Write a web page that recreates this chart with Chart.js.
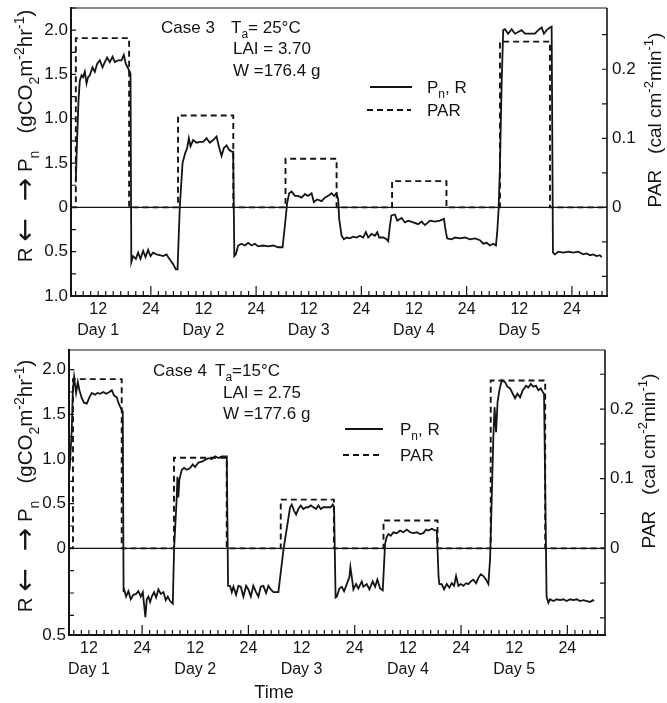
<!DOCTYPE html>
<html>
<head>
<meta charset="utf-8">
<title>Case 3 / Case 4 - Pn, R and PAR</title>
<script src="https://cdn.jsdelivr.net/npm/chart.js@4.4.0/dist/chart.umd.min.js"></script>
<style>
  body { margin: 0; background: #fff; }
  canvas { position: absolute; left: 0; }
</style>
</head>
<body>
<canvas id="case3" width="667" height="340" style="top:0"></canvas>
<canvas id="case4" width="667" height="363" style="top:340px"></canvas>
<script>
const INK = "#141414";
const FONT = "Liberation Sans, DejaVu Sans, sans-serif";
// PAR (cal cm-2 min-1) per unit of Pn (gCO2 m-2 hr-1) on the two y axes
const PAR_PER_RATE = 0.1283;

// time axis, hours from the start of day 1
const timeTickHours = [12, 24, 36, 48, 60, 72, 84, 96, 108, 120];
const timeTickLabels = [["12", "Day 1"], "24", ["12", "Day 2"], "24", ["12", "Day 3"], "24", ["12", "Day 4"], "24", ["12", "Day 5"], "24"];
const parTicks = [0, 0.1, 0.2];
const parTickLabels = ["0", "0.1", "0.2"];

// ---- Case 3 (Ta = 25 C) ----
const case3RateTicks = [2, 1.5, 1, 0.5, 0, -0.5, -1];
const case3RateLabels = ["2.0", "1.5", "1.0", "1.5", "0", "0.5", "1.0"];
const case3Hours = [
  6.9, 7.19, 7.51, 7.81, 8.2, 8.56, 8.95, 9.34, 9.7, 10.09, 10.7, 11.23, 11.75, 12.37, 12.98, 13.51, 14.03, 14.65, 15.27, 15.79,
  16.54, 17.32, 17.84, 18.3, 18.82, 19.37, 19.55, 19.96, 20.58, 21.1, 21.65, 22.24, 22.79, 23.38, 23.93, 24.52, 25.3, 26.05, 26.8, 27.58,
  27.95, 28.49, 29.09, 29.7, 30.09, 30.39, 30.61, 31.23, 31.82, 32.28, 32.67, 33.05, 33.65, 34.42, 35.17, 35.93, 36.7, 37.45, 38.21, 38.98,
  39.51, 40.12, 40.65, 41.26, 41.86, 42.4, 42.77, 43.04, 43.38, 43.91, 44.68, 45.44, 46.19, 46.96, 47.72, 48.47, 49.61, 50.75, 51.89, 53.03,
  54.03, 54.56, 55.08, 55.54, 56.09, 56.84, 57.59, 58.37, 59.12, 59.87, 60.65, 61.17, 61.93, 62.93, 63.68, 64.43, 65.21, 65.73, 66.35, 66.71,
  66.94, 67.49, 68.01, 68.63, 69.38, 70.13, 70.91, 71.66, 72.41, 73.03, 73.56, 74.33, 75.08, 75.61, 76.06, 76.98, 77.75, 78.12, 78.5, 78.85,
  79.64, 80.17, 81.17, 81.92, 82.68, 83.82, 84.96, 85.73, 86.49, 87.63, 88.77, 89.91, 90.82, 91.27, 91.57, 92.57, 93.33, 94.47, 95.61, 96.75,
  97.89, 99.03, 99.78, 100.56, 101.31, 102.06, 102.68, 102.97, 103.29, 103.59, 103.98, 104.34, 104.73, 105.48, 106.26, 107.01, 107.76, 108.54, 109.29, 110.43,
  111.57, 112.32, 113.1, 113.62, 114.24, 114.99, 115.38, 115.68, 116.13, 116.88, 118.02, 119.16, 120.3, 121.44, 122.58, 123.36, 124.11, 124.86, 125.64, 126.39,
  126.78
];
const case3Pn = [
  0.31, 0.76, 1.21, 1.43, 1.49, 1.47, 1.53, 1.40, 1.47, 1.49, 1.58, 1.53, 1.62, 1.66, 1.58, 1.64, 1.69, 1.64, 1.70, 1.64,
  1.66, 1.66, 1.72, 1.62, 1.57, 1.51, -0.62, -0.55, -0.58, -0.51, -0.58, -0.49, -0.56, -0.48, -0.55, -0.51, -0.53, -0.54, -0.55, -0.53,
  -0.56, -0.60, -0.64, -0.70, -0.70, -0.28, 0.01, 0.50, 0.61, 0.67, 0.78, 0.69, 0.76, 0.73, 0.74, 0.74, 0.78, 0.73, 0.76, 0.80,
  0.69, 0.58, 0.67, 0.70, 0.65, 0.63, 0.63, -0.55, -0.53, -0.43, -0.41, -0.43, -0.40, -0.43, -0.41, -0.44, -0.43, -0.44, -0.43, -0.45,
  -0.45, -0.21, 0.05, 0.16, 0.18, 0.13, 0.13, 0.11, 0.15, 0.13, 0.16, 0.06, 0.09, 0.07, 0.11, 0.13, 0.16, 0.13, 0.16, 0.09,
  -0.13, -0.32, -0.36, -0.34, -0.35, -0.33, -0.34, -0.32, -0.34, -0.28, -0.34, -0.30, -0.32, -0.28, -0.34, -0.34, -0.36, -0.38, -0.21, -0.09,
  -0.08, -0.15, -0.12, -0.17, -0.15, -0.17, -0.19, -0.16, -0.20, -0.15, -0.16, -0.15, -0.13, -0.28, -0.35, -0.36, -0.34, -0.35, -0.34, -0.36,
  -0.35, -0.37, -0.41, -0.40, -0.43, -0.41, -0.43, -0.28, -0.02, 0.46, 1.40, 2.00, 2.01, 1.96, 2.01, 1.96, 1.98, 2.00, 1.96, 1.96,
  1.96, 2.00, 2.03, 1.96, 2.00, 2.03, 2.04, -0.51, -0.53, -0.50, -0.51, -0.50, -0.51, -0.50, -0.53, -0.52, -0.54, -0.53, -0.55, -0.54,
  -0.56
];
const case3ParOn = [6.9, 30.2, 54.7, 79.0, 103.6];
const case3ParOff = [19.05, 42.8, 66.35, 91.4, 115.0];
const case3Par = [0.245, 0.133, 0.0705, 0.038, 0.24];

// ---- Case 4 (Ta = 15 C) ----
const case4RateTicks = [2, 1.5, 1, 0.5, 0, -0.97];
const case4RateLabels = ["2.0", "1.5", "1.0", "0.5", "0", "0.5"];
const case4Hours = [
  7.63, 8.13, 8.36, 8.65, 9.1, 9.49, 9.85, 10.39, 10.91, 11.52, 12.1, 12.65, 13.39, 13.91, 14.52, 15.26, 15.87, 16.62, 17.16, 17.68,
  18.29, 18.65, 19.19, 19.64, 19.82, 19.94, 20.39, 20.91, 21.45, 22.04, 22.65, 23.16, 23.71, 24.16, 24.74, 25.06, 25.42, 25.81, 26.19, 26.71,
  27.16, 27.68, 28.22, 28.81, 29.35, 29.8, 30.32, 30.93, 31.22, 31.45, 31.83, 31.97, 32.19, 32.42, 32.96, 33.48, 34.09, 34.84, 35.44, 35.96,
  36.71, 37.48, 38.22, 38.97, 39.73, 40.48, 41.22, 41.99, 42.74, 43.12, 43.41, 43.86, 44.25, 44.61, 45.22, 45.74, 46.28, 46.87, 47.48, 47.99,
  48.54, 49.12, 49.73, 50.25, 50.79, 51.38, 51.99, 52.51, 53.05, 53.64, 54.77, 55.9, 57.41, 57.79, 58.31, 58.76, 59.28, 59.82, 60.41, 61.02,
  61.54, 62.08, 62.67, 63.28, 63.8, 64.34, 64.93, 65.53, 66.05, 66.6, 67.05, 67.34, 67.68, 67.95, 68.54, 69.08, 69.6, 70.21, 70.8, 71.02,
  71.34, 71.7, 72.3, 72.82, 73.59, 73.95, 74.72, 75.31, 76.07, 76.6, 77.11, 77.72, 78.33, 78.85, 79.24, 79.6, 80.14, 80.73, 81.49, 82.24,
  82.98, 83.75, 84.5, 85.24, 86.01, 86.75, 87.5, 88.11, 88.63, 89.4, 90.14, 90.53, 90.93, 91.11, 91.65, 92.17, 92.78, 93.37, 93.91, 94.43,
  94.88, 95.4, 95.94, 96.53, 97.14, 97.66, 98.2, 98.79, 99.4, 99.91, 100.46, 101.04, 101.65, 102.17, 102.56, 102.94, 103.3, 103.57, 103.91, 104.25,
  104.7, 105.2, 105.94, 106.46, 107.07, 107.68, 108.2, 108.72, 109.33, 109.94, 110.68, 111.2, 111.74, 112.33, 112.94, 113.46, 114.0, 114.45, 114.74, 115.31,
  115.72, 116.1, 116.85, 117.61, 118.36, 119.1, 119.87, 120.61, 121.36, 122.13, 122.87, 123.62, 124.38, 125.13, 125.74, 126.03
];
const case4Pn = [
  0.87, 1.33, 1.77, 1.92, 1.74, 1.86, 1.77, 1.68, 1.63, 1.62, 1.69, 1.74, 1.72, 1.74, 1.73, 1.75, 1.73, 1.75, 1.77, 1.71,
  1.69, 1.63, 1.57, 1.53, -0.49, -0.46, -0.54, -0.48, -0.57, -0.52, -0.51, -0.48, -0.54, -0.49, -0.77, -0.57, -0.54, -0.60, -0.54, -0.49,
  -0.55, -0.46, -0.51, -0.49, -0.58, -0.54, -0.59, -0.62, -0.01, 0.21, 0.58, 0.80, 0.57, 0.77, 0.88, 0.90, 0.88, 0.90, 0.94, 0.91,
  0.96, 0.97, 0.99, 1.01, 1.00, 1.03, 1.01, 1.03, 1.03, 1.03, -0.42, -0.42, -0.49, -0.43, -0.52, -0.42, -0.43, -0.54, -0.42, -0.46,
  -0.54, -0.42, -0.49, -0.54, -0.43, -0.42, -0.50, -0.42, -0.46, -0.49, -0.49, -0.02, 0.46, 0.49, 0.42, 0.38, 0.44, 0.48, 0.44, 0.46,
  0.46, 0.48, 0.46, 0.44, 0.48, 0.44, 0.46, 0.46, 0.46, 0.46, 0.49, 0.46, -0.55, -0.54, -0.45, -0.43, -0.48, -0.40, -0.32, -0.21,
  -0.32, -0.46, -0.40, -0.45, -0.37, -0.43, -0.40, -0.46, -0.37, -0.43, -0.35, -0.45, -0.47, 0.05, 0.13, 0.16, 0.14, 0.18, 0.17, 0.20,
  0.18, 0.21, 0.18, 0.17, 0.18, 0.16, 0.17, 0.21, 0.20, 0.22, 0.20, 0.20, -0.32, -0.40, -0.40, -0.46, -0.40, -0.44, -0.39, -0.42,
  -0.31, -0.42, -0.40, -0.42, -0.39, -0.40, -0.37, -0.35, -0.39, -0.33, -0.29, -0.31, -0.35, -0.40, -0.12, 0.58, 1.25, 1.58, 1.30, 1.64,
  1.78, 1.88, 1.86, 1.81, 1.79, 1.73, 1.68, 1.73, 1.69, 1.77, 1.82, 1.80, 1.84, 1.81, 1.82, 1.77, 1.79, 1.75, 1.73, -0.54,
  -0.61, -0.57, -0.59, -0.57, -0.58, -0.57, -0.59, -0.57, -0.58, -0.57, -0.59, -0.58, -0.59, -0.60, -0.58, -0.59
];
const case4ParOn = [8.4, 31.2, 55.3, 78.5, 102.7];
const case4ParOff = [19.4, 43.1, 67.3, 90.7, 115.0];
const case4Par = [0.243, 0.13, 0.07, 0.04, 0.241];

// axis titles and legend text, as [text, 'sub' | 'sup' | 'arrow'] runs
const rateTitle = [["R "], ["←", "arrow"], ["   "], ["→", "arrow"], [" P"], ["n", "sub"], ["   (gCO"], ["2", "sub"], ["m"], ["-2", "sup"], ["hr"], ["-1", "sup"], [")"]];
const parTitle = [["PAR   (cal cm"], ["-2", "sup"], ["min"], ["-1", "sup"], [")"]];
const pnLegend = [["P"], ["n", "sub"], [", R"]];

function fontFor(size, kind) {
  if (kind === "arrow") return Math.round(size * 1.35) + "px 'DejaVu Sans'";
  return (kind ? Math.round(size * 0.68) : size) + "px " + FONT;
}

// draws a run of normal / subscript / superscript text starting at x (baseline y)
function drawRich(ctx, parts, x, y, size, align) {
  const widths = parts.map(([t, k]) => {
    ctx.font = fontFor(size, k);
    return ctx.measureText(t).width;
  });
  const total = widths.reduce((s, w) => s + w, 0);
  let cx = align === "center" ? x - total / 2 : x;
  ctx.textAlign = "left";
  ctx.textBaseline = "alphabetic";
  parts.forEach(([t, k], i) => {
    ctx.font = fontFor(size, k);
    let dy = 0;
    if (k === "sub") dy = size * 0.3;
    if (k === "sup") dy = -size * 0.42;
    if (k === "arrow") dy = size * 0.08;
    ctx.fillText(t, cx, y + dy);
    cx += widths[i];
  });
}

function drawVertical(ctx, parts, cx, cy, size) {
  ctx.save();
  ctx.translate(cx, cy);
  ctx.rotate(-Math.PI / 2);
  drawRich(ctx, parts, 0, size * 0.36, size, "center");
  ctx.restore();
}

function buildPar(on, off, level, xMin, xMax) {
  const pts = [{ x: xMin, y: 0 }];
  on.forEach((t, i) => {
    pts.push({ x: t, y: level[i] }, { x: off[i], y: 0 });
  });
  pts.push({ x: xMax, y: 0 });
  return pts;
}

// frame, zero line and inward tick marks
const framePlugin = {
  id: "frame",
  beforeDatasetsDraw(chart) {
    const { ctx, chartArea: a, scales } = chart;
    const y0 = scales.y.getPixelForValue(0);
    ctx.save();
    ctx.strokeStyle = INK;
    ctx.lineWidth = 1.1;
    ctx.beginPath();
    ctx.moveTo(a.left, y0);
    ctx.lineTo(a.right, y0);
    ctx.stroke();
    ctx.restore();
  },
  afterDatasetsDraw(chart) {
    const { ctx, chartArea: a, scales: { x, y, y1 } } = chart;
    ctx.save();
    ctx.strokeStyle = INK;
    const edge = (x1, y1_, x2, y2, w) => {
      ctx.lineWidth = w;
      ctx.beginPath();
      ctx.moveTo(x1, y1_);
      ctx.lineTo(x2, y2);
      ctx.stroke();
    };
    edge(a.left, a.top, a.right, a.top, 1.2);
    edge(a.left, a.top - 1, a.left, a.bottom + 1, 2);
    edge(a.left - 1, a.bottom, a.right + 1, a.bottom, 2);
    edge(a.right, a.top, a.right, a.bottom + 1, 1.6);

    ctx.lineWidth = 1.2;
    ctx.beginPath();
    // 14 marks per day along the time axis, a long one at each midnight
    const step = 24 / 14;
    for (let i = Math.ceil(x.min / step); i * step <= x.max; i++) {
      const px = x.getPixelForValue(i * step);
      ctx.moveTo(px, a.bottom);
      ctx.lineTo(px, a.bottom - (i % 14 === 0 ? 10 : 5));
    }
    for (let i = Math.ceil(y.min * 4); i / 4 <= y.max; i++) {
      const py = y.getPixelForValue(i / 4);
      ctx.moveTo(a.left, py);
      ctx.lineTo(a.left + 5, py);
    }
    for (let i = Math.ceil(y1.min * 20); i / 20 <= y1.max; i++) {
      const py = y1.getPixelForValue(i / 20);
      ctx.moveTo(a.right, py);
      ctx.lineTo(a.right - 5, py);
    }
    ctx.stroke();
    ctx.restore();
  }
};

// case notes, legend and rotated axis titles
const textPlugin = {
  id: "panelText",
  afterDraw(chart) {
    const o = chart.options.plugins.panelText;
    const { ctx } = chart;
    const ds = chart.data.datasets;
    ctx.save();
    ctx.fillStyle = INK;
    o.notes.forEach((n) => drawRich(ctx, n.parts, n.x, n.y + 6, 17, "left"));

    [o.legend.pn, o.legend.par].forEach((item, i) => {
      ctx.save();
      ctx.strokeStyle = ds[i].borderColor;
      ctx.lineWidth = ds[i].borderWidth;
      ctx.setLineDash(ds[i].borderDash || []);
      ctx.beginPath();
      ctx.moveTo(item.x1, item.y);
      ctx.lineTo(item.x2, item.y);
      ctx.stroke();
      ctx.restore();
      drawRich(ctx, i === 0 ? pnLegend : [["PAR"]], o.legend.textX, item.y + 6, 17, "left");
    });

    drawVertical(ctx, rateTitle, o.rateTitle.x, o.rateTitle.y, 20.5);
    drawVertical(ctx, parTitle, o.parTitle.x, o.parTitle.y, 19);
    if (o.timeTitle) {
      drawRich(ctx, [["Time"]], o.timeTitle.x, o.timeTitle.y + 6, 18, "center");
    }
    ctx.restore();
  }
};

// fixed axis sizes so both panels keep the same plot box
function fixBox(size) {
  return (s) => {
    Object.assign(s, size);
    s.paddingTop = 0;
    s.paddingBottom = 0;
    s.paddingLeft = 0;
    s.paddingRight = 0;
  };
}

function makePanel(id, p) {
  const pnPoints = p.hours.map((h, i) => ({ x: h, y: p.pn[i] }));
  const parPoints = buildPar(p.parOn, p.parOff, p.par, p.xMin, p.xMax);
  return new Chart(document.getElementById(id), {
    type: "line",
    data: {
      datasets: [
        { label: "Pn, R", data: pnPoints, yAxisID: "y", borderColor: INK, borderWidth: 1.8, pointRadius: 0 },
        { label: "PAR", data: parPoints, yAxisID: "y1", borderColor: INK, borderWidth: 1.9, borderDash: [6, 4], stepped: true, pointRadius: 0 }
      ]
    },
    options: {
      responsive: false,
      animation: false,
      devicePixelRatio: 1,
      font: { family: FONT },
      layout: { padding: { top: p.padTop, left: 0, right: 0, bottom: 0 } },
      plugins: {
        legend: { display: false },
        tooltip: { enabled: false },
        panelText: p.text
      },
      scales: {
        x: {
          type: "linear",
          min: p.xMin,
          max: p.xMax,
          grid: { display: false, drawTicks: false },
          border: { display: false },
          afterBuildTicks: (s) => { s.ticks = timeTickHours.map((v) => ({ value: v })); },
          afterFit: fixBox({ height: p.xHeight }),
          ticks: {
            autoSkip: false, maxRotation: 0, minRotation: 0, padding: 3, color: INK,
            font: { family: FONT, size: 16, lineHeight: 1.3 },
            callback: (v, i) => timeTickLabels[i]
          }
        },
        y: {
          position: "left",
          min: p.yMin,
          max: p.yMax,
          grid: { display: false, drawTicks: false },
          border: { display: false },
          afterBuildTicks: (s) => { s.ticks = p.rateTicks.map((v) => ({ value: v })); },
          afterFit: fixBox({ width: p.leftWidth }),
          ticks: {
            padding: 3, color: INK, font: { family: FONT, size: 17 },
            callback: (v, i) => p.rateLabels[i]
          }
        },
        y1: {
          position: "right",
          min: p.yMin * PAR_PER_RATE,
          max: p.yMax * PAR_PER_RATE,
          grid: { display: false, drawTicks: false },
          border: { display: false },
          afterBuildTicks: (s) => { s.ticks = parTicks.map((v) => ({ value: v })); },
          afterFit: fixBox({ width: p.rightWidth }),
          ticks: {
            padding: 5, color: INK, font: { family: FONT, size: 17 },
            callback: (v, i) => parTickLabels[i]
          }
        }
      }
    },
    plugins: [framePlugin, textPlugin]
  });
}

makePanel("case3", {
  hours: case3Hours, pn: case3Pn,
  parOn: case3ParOn, parOff: case3ParOff, par: case3Par,
  rateTicks: case3RateTicks, rateLabels: case3RateLabels,
  xMin: 5.8, xMax: 128, yMin: -1, yMax: 2.25,
  padTop: 8, xHeight: 44, leftWidth: 71, rightWidth: 60,
  text: {
    notes: [
      { x: 161, y: 27, parts: [["Case 3"]] },
      { x: 231, y: 27, parts: [["T"], ["a", "sub"], ["= 25°C"]] },
      { x: 233, y: 48, parts: [["LAI = 3.70"]] },
      { x: 233, y: 70, parts: [["W =176.4 g"]] }
    ],
    legend: { pn: { x1: 370, x2: 412, y: 87 }, par: { x1: 367, x2: 411, y: 110 }, textX: 427 },
    rateTitle: { x: 25, y: 136 },
    parTitle: { x: 654, y: 120 }
  }
});

makePanel("case4", {
  hours: case4Hours, pn: case4Pn,
  parOn: case4ParOn, parOff: case4ParOff, par: case4Par,
  rateTicks: case4RateTicks, rateLabels: case4RateLabels,
  xMin: 7.5, xMax: 128.5, yMin: -0.97, yMax: 2.22,
  padTop: 10, xHeight: 68, leftWidth: 69, rightWidth: 62,
  text: {
    notes: [
      { x: 153, y: 30, parts: [["Case 4"]] },
      { x: 215, y: 30, parts: [["T"], ["a", "sub"], ["=15°C"]] },
      { x: 223, y: 52, parts: [["LAI = 2.75"]] },
      { x: 223, y: 73, parts: [["W =177.6 g"]] }
    ],
    legend: { pn: { x1: 345, x2: 383, y: 89 }, par: { x1: 343, x2: 383, y: 115 }, textX: 400 },
    rateTitle: { x: 25, y: 146 },
    parTitle: { x: 648, y: 121 },
    timeTitle: { x: 274, y: 352 }
  }
});
</script>
</body>
</html>
